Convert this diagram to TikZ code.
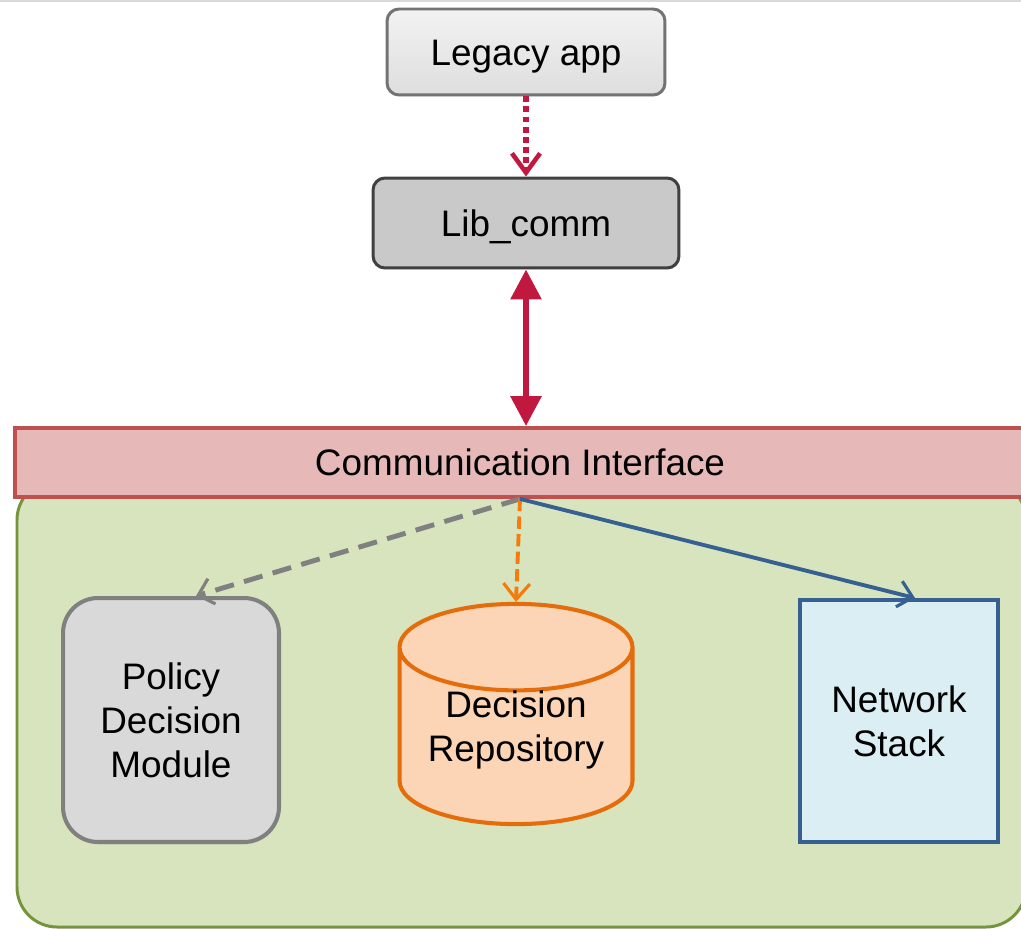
\documentclass[tikz,border=0pt]{standalone}
\usepackage{fontspec}
\setmainfont{Liberation Sans}
\usetikzlibrary{arrows.meta,shapes.geometric,shadows}

\definecolor{crimson}{HTML}{C0183E}
\definecolor{ciFill}{HTML}{E6B9B8}
\definecolor{ciLine}{HTML}{C0504D}
\definecolor{boxFill}{HTML}{D7E4BD}
\definecolor{boxLine}{HTML}{77933C}
\definecolor{repoFill}{HTML}{FBD5B5}
\definecolor{repoLine}{HTML}{E46C0A}
\definecolor{repoArrow}{HTML}{F47B0C}
\definecolor{stackFill}{HTML}{DBEEF4}
\definecolor{stackLine}{HTML}{376092}

\tikzset{
  oneline/.style={text height=18.9pt, text depth=3.8pt},
  appbox/.style={rectangle, rounded corners=0.24cm, line width=1.7pt, oneline,
    minimum width=5.56cm, minimum height=1.72cm,
    drop shadow={shadow xshift=0.6pt, shadow yshift=-0.8pt, opacity=0.25}},
  part/.style={line width=2.3pt, align=center},
  partshadow/.style={drop shadow={shadow xshift=0pt, shadow yshift=-1.4pt, opacity=0.2}},
  vtip/.style={-{Straight Barb[length=#1,width=15pt,line width=1.8pt]}},
}

\begin{document}
\begin{tikzpicture}[x=0.02cm, y=-0.02cm, font=\fontsize{21}{25}\selectfont]
\clip (0,0) rectangle (1021,929);
\draw[gray!30, line width=1.2pt] (0,1) -- (1021,1);

% container behind the interface bar
\draw[boxLine, fill=boxFill, line width=1.7pt, rounded corners=0.8cm] (17,480) rectangle (1026,927);

\node[appbox, draw=gray!90!black, top color=gray!10, bottom color=gray!26] (legacy) at (526,52) {Legacy app};
\node[appbox, minimum width=6.12cm, minimum height=1.8cm, draw=black!75, fill=gray!42] (lib) at (526,223) {Lib\_comm};

\node[rectangle, draw=ciLine, fill=ciFill, line width=2.2pt, oneline, minimum width=20.2cm, minimum height=1.38cm] (ci) at (520,462.5) {Communication Interface};
\coordinate (hub) at (ci.south);

\node[part, partshadow, rectangle, rounded corners=0.7cm, draw=gray, fill=gray!30,
  minimum width=4.32cm, minimum height=4.88cm] (pdm) at (171,720) {Policy\\Decision\\Module};
\node[part, cylinder, shape border rotate=90, aspect=0.46, draw=repoLine, fill=repoFill,
  minimum width=4.66cm, minimum height=4.2cm, text height=35.8pt, text depth=15.6pt,
  anchor=shape center] (repo) at (516,714) {Decision\\Repository};
\node[part, partshadow, rectangle, draw=stackLine, fill=stackFill,
  minimum width=3.96cm, minimum height=4.84cm] (stack) at (899,721) {Network\\Stack};

\draw[crimson, line width=3.4pt, dash pattern=on 3.4pt off 2.3pt,
  -{Straight Barb[length=11pt,width=16pt,line width=2.6pt]}] (legacy.south) -- (lib.north);
\draw[crimson, line width=3.4pt, {Triangle[length=17pt,width=17pt]}-{Triangle[length=17pt,width=17pt]}] (lib.south) -- (ci.north -| lib.south);

\draw[gray, line width=2.8pt, dash pattern=on 11pt off 6pt, vtip=8pt] (hub) -- ([xshift=0.5cm]pdm.north);
\draw[repoArrow, line width=2.2pt, dash pattern=on 7pt off 3pt, vtip=9pt] (hub) -- (repo.top);
\draw[stackLine, line width=2.2pt, vtip=8pt] (hub) -- ([xshift=0.32cm]stack.north);
\end{tikzpicture}
\end{document}
